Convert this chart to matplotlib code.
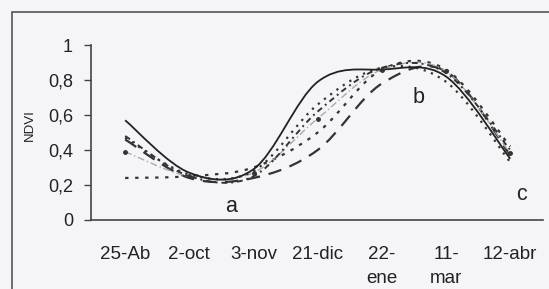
import numpy as np
import matplotlib
matplotlib.use("Agg")
import matplotlib.pyplot as plt
from matplotlib.path import Path
from matplotlib.patches import PathPatch, Rectangle

plt.rcParams.update({
    "font.family": ["Liberation Sans", "DejaVu Sans"],
})

# fechas (eje de categorias)
fechas = ["25-Ab", "2-oct", "3-nov", "21-dic", "22-\nene", "11-\nmar", "12-abr"]

# series NDVI
s_solid = [0.57, 0.27, 0.29, 0.79, 0.86, 0.82, 0.35]
s_dots = [0.47, 0.26, 0.28, 0.66, 0.87, 0.79, 0.33]
s_gray = [0.39, 0.25, 0.27, 0.58, 0.86, 0.85, 0.38]
s_sq = [0.24, 0.25, 0.30, 0.50, 0.86, 0.86, 0.42]
s_long = [0.46, 0.24, 0.24, 0.40, 0.78, 0.85, 0.37]
s_dashdot = [0.48, 0.25, 0.25, 0.62, 0.87, 0.84, 0.40]


def smooth_path(y):
    # curva suavizada tipo Excel (Bezier por tramos)
    x = np.arange(len(y), dtype=float)
    y = np.asarray(y, dtype=float)
    pts = np.column_stack([x, y])
    n = len(pts)
    verts = [pts[0]]
    codes = [Path.MOVETO]
    for i in range(n - 1):
        p0 = pts[max(i - 1, 0)]
        p1 = pts[i]
        p2 = pts[i + 1]
        p3 = pts[min(i + 2, n - 1)]
        c1 = p1 + (p2 - p0) / 6
        c2 = p2 - (p3 - p1) / 6
        verts += [c1, c2, p2]
        codes += [Path.CURVE4] * 3
    return Path(verts, codes)


fig = plt.figure(figsize=(5.49, 2.89), dpi=100)
fig.patch.set_facecolor("#f5f5f7")
ax = fig.add_axes([0.166, 0.239, 0.823, 0.605])
ax.set_facecolor("#f5f5f7")

# marco exterior
fig.patches.append(Rectangle((0.022, -0.05), 1.2, 1.008, transform=fig.transFigure,
                             fill=False, edgecolor="#555555", linewidth=1.2))

series = [
    (s_sq, dict(color="#333333", linewidth=1.6, linestyle=(0, (1.5, 3)))),
    (s_long, dict(color="#333333", linewidth=1.6, linestyle=(0, (6, 4)))),
    (s_gray, dict(color="#aaaaaa", linewidth=1.0, linestyle=(0, (5, 2, 1, 2)))),
    (s_dashdot, dict(color="#333333", linewidth=1.4, linestyle=(0, (3, 2, 1, 2)))),
    (s_dots, dict(color="#333333", linewidth=1.6, linestyle=(0, (1, 2.5)))),
    (s_solid, dict(color="#222222", linewidth=1.3, linestyle="-")),
]
for y, st in series:
    ax.add_patch(PathPatch(smooth_path(y), fill=False, **st))

ax.plot(np.arange(len(s_gray)), s_gray, "o", color="#333333", markersize=2.5)

ax.set_xlim(-0.53, 6.51)
ax.set_ylim(0, 1)
ax.set_yticks([0, 0.2, 0.4, 0.6, 0.8, 1.0])
ax.set_yticklabels(["0", "0,2", "0,4", "0,6", "0,8", "1"], fontsize=13, color="#222222")
ax.set_xticks(np.arange(len(fechas)))
ax.set_xticklabels(fechas, fontsize=13.5, va="top", linespacing=1.5, color="#222222")
ax.tick_params(axis="x", length=0, pad=19)
ax.tick_params(axis="y", length=5, width=1, pad=8, color="#444444")
ax.set_ylabel("NDVI", fontsize=9.5, color="#222222")
ax.yaxis.set_label_coords(-0.122, 0.54)

for s in ["top", "right"]:
    ax.spines[s].set_visible(False)
for s in ["left", "bottom"]:
    ax.spines[s].set_color("#444444")
    ax.spines[s].set_linewidth(1.2)

ax.text(1.65, 0.074, "a", fontsize=15.5, ha="center", va="center", color="#222222")
ax.text(4.57, 0.70, "b", fontsize=15.5, ha="center", va="center", color="#222222")
ax.text(6.17, 0.143, "c", fontsize=15.5, ha="center", va="center", color="#222222")

fig.savefig("out.png", dpi=100, facecolor=fig.get_facecolor())
